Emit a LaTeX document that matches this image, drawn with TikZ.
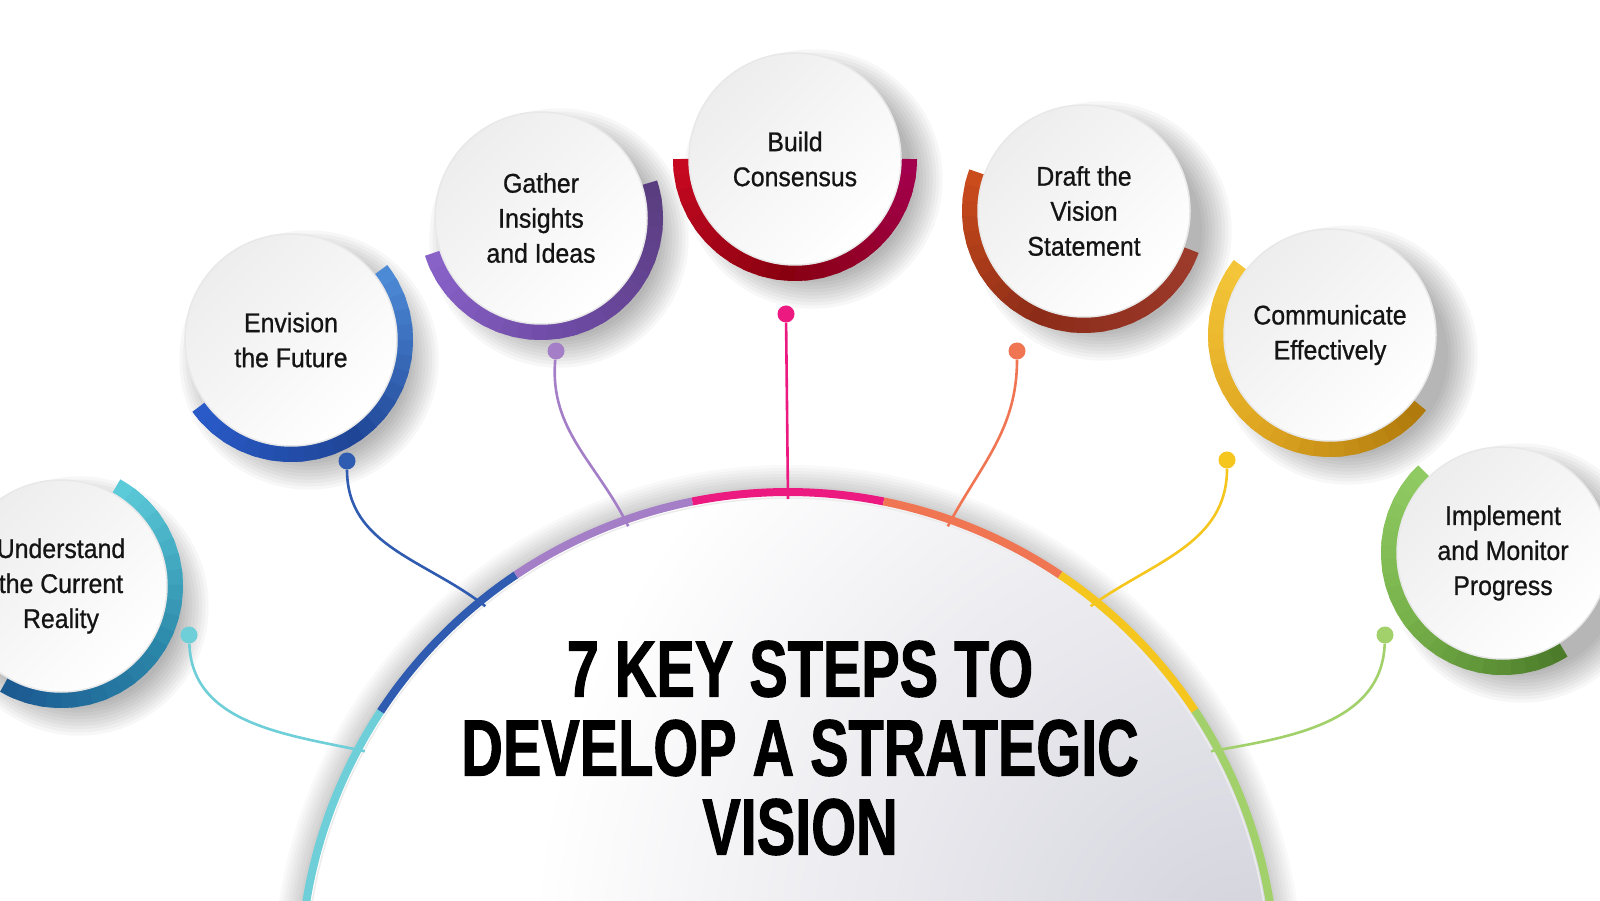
\documentclass[tikz,border=0pt]{standalone}
\usepackage{fontspec}
\setmainfont{Liberation Sans}
\newfontfamily\lblfont[FakeStretch=0.92, FakeBold=0.8]{Liberation Sans}
\newfontfamily\ttlfont[FakeStretch=0.72, FakeBold=1.2]{Liberation Sans}
\definecolor{cU}{HTML}{6FCFD8}
\definecolor{cE}{HTML}{2F5BB0}
\definecolor{cG}{HTML}{A47FC8}
\definecolor{cB}{HTML}{EC1A80}
\definecolor{cD}{HTML}{F07552}
\definecolor{cC}{HTML}{F4C61E}
\definecolor{cI}{HTML}{A2D06A}
\definecolor{lav}{HTML}{D2D2DC}
\definecolor{txt}{HTML}{141414}
% ring colours A (start) M (middle) E (end)
\definecolor{UA}{HTML}{5CCBD9}\definecolor{UM}{HTML}{2A86A8}\definecolor{UE}{HTML}{1A5590}
\definecolor{EA}{HTML}{4D8AD6}\definecolor{EM}{HTML}{1F4596}\definecolor{EE}{HTML}{2A5CCC}
\definecolor{GA}{HTML}{5A3D80}\definecolor{GM}{HTML}{6D4AA3}\definecolor{GE}{HTML}{8C64CC}
\definecolor{BA}{HTML}{A3004E}\definecolor{BM}{HTML}{880010}\definecolor{BE}{HTML}{CC0A22}
\definecolor{DA}{HTML}{9C3A2C}\definecolor{DM}{HTML}{8C2C18}\definecolor{DE}{HTML}{D04E1C}
\definecolor{CA}{HTML}{B07A0C}\definecolor{CM}{HTML}{E0A822}\definecolor{CE}{HTML}{F6C83A}
\definecolor{IA}{HTML}{4C7C2A}\definecolor{IM}{HTML}{78B24A}\definecolor{IE}{HTML}{92CC64}
\newcommand{\ringpart}[6]{%
  \foreach \k in {0,...,23}{%
    \pgfmathsetmacro{\angA}{#2+(#3-#2)*\k/24}%
    \pgfmathsetmacro{\angB}{#2+(#3-#2)*min(\k+1.4,24)/24}%
    \ifnum\k<12
      \pgfmathtruncatemacro{\pctv}{100*\k/12}%
      \colorlet{rc}{#5!\pctv!#4}%
    \else
      \pgfmathtruncatemacro{\pctv}{100*(\k-12)/12}%
      \colorlet{rc}{#6!\pctv!#5}%
    \fi
    \draw[line width=16pt, rc] #1 ++(\angA:114) arc[start angle=\angA, end angle=\angB, radius=114];
  }%
}
\newcommand{\softshadow}[1]{%
  \foreach \s in {0,...,9}{%
    \fill[black, opacity=0.03] #1 ++(18,-20) circle ({100+3.3*\s});
  }%
}
\begin{document}
\begin{tikzpicture}[x=1pt,y=1pt]
\tikzset{
  lbl/.style={circle, minimum size=212pt, inner sep=0, top color=gray!14, bottom color=white,
    shading angle=45, draw=gray!18, line width=1.5pt, align=center, text=txt,
    font=\lblfont\fontsize{27}{35}\selectfont},
  ttl/.style={align=center, inner sep=0, text=black, font=\ttlfont\bfseries\fontsize{80}{79}\selectfont},
  dotnode/.style={circle, minimum size=17pt, inner sep=0},
  conn/.style={line width=2.6pt},
  bigarc/.style={line width=8pt},
}
\useasboundingbox (0,0) rectangle (1600,900);
\clip (0,0) rectangle (1600,900);
\fill[white] (0,0) rectangle (1600,900);

% ---- big half circle ----
\coordinate (bc) at (788,-80);
\foreach \s in {1,...,9}{\fill[black, opacity=0.022] (bc) circle ({488+3*\s});}
\fill[white] (bc) circle (488);
\begin{scope}
  \clip (bc) circle (488);
  \shade[inner color=lav, outer color=white] (1250,-60) circle (720);
\end{scope}
\draw[gray!30, line width=2pt] (bc) circle (497);
\draw[bigarc, cU] (bc) ++(180:488) arc[start angle=180, end angle=146.6, radius=488];
\draw[bigarc, cE] (bc) ++(146.6:488) arc[start angle=146.6, end angle=123.9, radius=488];
\draw[bigarc, cG] (bc) ++(123.9:488) arc[start angle=123.9, end angle=101.3, radius=488];
\draw[bigarc, cB] (bc) ++(101.3:488) arc[start angle=101.3, end angle=78.7, radius=488];
\draw[bigarc, cD] (bc) ++(78.7:488) arc[start angle=78.7, end angle=56.1, radius=488];
\draw[bigarc, cC] (bc) ++(56.1:488) arc[start angle=56.1, end angle=33.5, radius=488];
\draw[bigarc, cI] (bc) ++(33.5:488) arc[start angle=33.5, end angle=0, radius=488];
\draw[gray!15, line width=1.5pt] (bc) circle (482);

\node[ttl] (title) at (800,152) {7 KEY STEPS TO\\DEVELOP A STRATEGIC\\VISION};

% ---- shadows ----
\softshadow{(61,314)}
\softshadow{(291,560)}
\softshadow{(541,682)}
\softshadow{(795,741)}
\softshadow{(1084,689)}
\softshadow{(1330,565)}
\softshadow{(1503,347)}

% ---- rings ----
\ringpart{(61,314)}{61}{-120}{UA}{UM}{UE}
\ringpart{(291,560)}{38}{-144}{EA}{EM}{EE}
\ringpart{(541,682)}{18}{-162}{GA}{GM}{GE}
\ringpart{(795,741)}{0}{-180}{BA}{BM}{BE}
\ringpart{(1084,689)}{-20}{-200}{DA}{DM}{DE}
\ringpart{(1330,565)}{-38}{-218}{CA}{CM}{CE}
\ringpart{(1503,347)}{-58}{-226}{IA}{IM}{IE}

% ---- disks with labels ----
\node[lbl] (nU) at (61,314) {Understand\\the Current\\Reality};
\node[lbl] (nE) at (291,560) {Envision\\the Future};
\node[lbl] (nG) at (541,682) {Gather\\Insights\\and Ideas};
\node[lbl] (nB) at (795,741) {Build\\Consensus};
\node[lbl] (nD) at (1084,689) {Draft the\\Vision\\Statement};
\node[lbl] (nC) at (1330,565) {Communicate\\Effectively};
\node[lbl] (nI) at (1503,347) {Implement\\and Monitor\\Progress};

% ---- connector ends on the big arc ----
\path (bc) ++(151.6:481) coordinate (eU);
\path (bc) ++(129:481) coordinate (eE);
\path (bc) ++(109.4:481) coordinate (eG);
\path (bc) ++(90:481) coordinate (eB);
\path (bc) ++(70.6:481) coordinate (eD);
\path (bc) ++(51:481) coordinate (eC);
\path (bc) ++(28.4:481) coordinate (eI);

% ---- dots ----
\node[dotnode, fill=cU] (dU) at (189,265) {};
\node[dotnode, fill=cE] (dE) at (347,439) {};
\node[dotnode, fill=cG] (dG) at (556,549) {};
\node[dotnode, fill=cB] (dB) at (786,586) {};
\node[dotnode, fill=cD] (dD) at (1017,549) {};
\node[dotnode, fill=cC] (dC) at (1227,440) {};
\node[dotnode, fill=cI] (dI) at (1385,265) {};

% ---- connectors ----
\draw[conn, cU] (dU) to[out=-88, in=168] (eU);
\draw[conn, cE] (dE) to[out=-90, in=142] (eE);
\draw[conn, cG] (dG) to[out=-95, in=116] (eG);
\draw[conn, cB] (dB) -- (eB);
\draw[conn, cD] (dD) to[out=-90, in=62] (eD);
\draw[conn, cC] (dC) to[out=-90, in=36] (eC);
\draw[conn, cI] (dI) to[out=-92, in=10] (eI);
\end{tikzpicture}
\end{document}
